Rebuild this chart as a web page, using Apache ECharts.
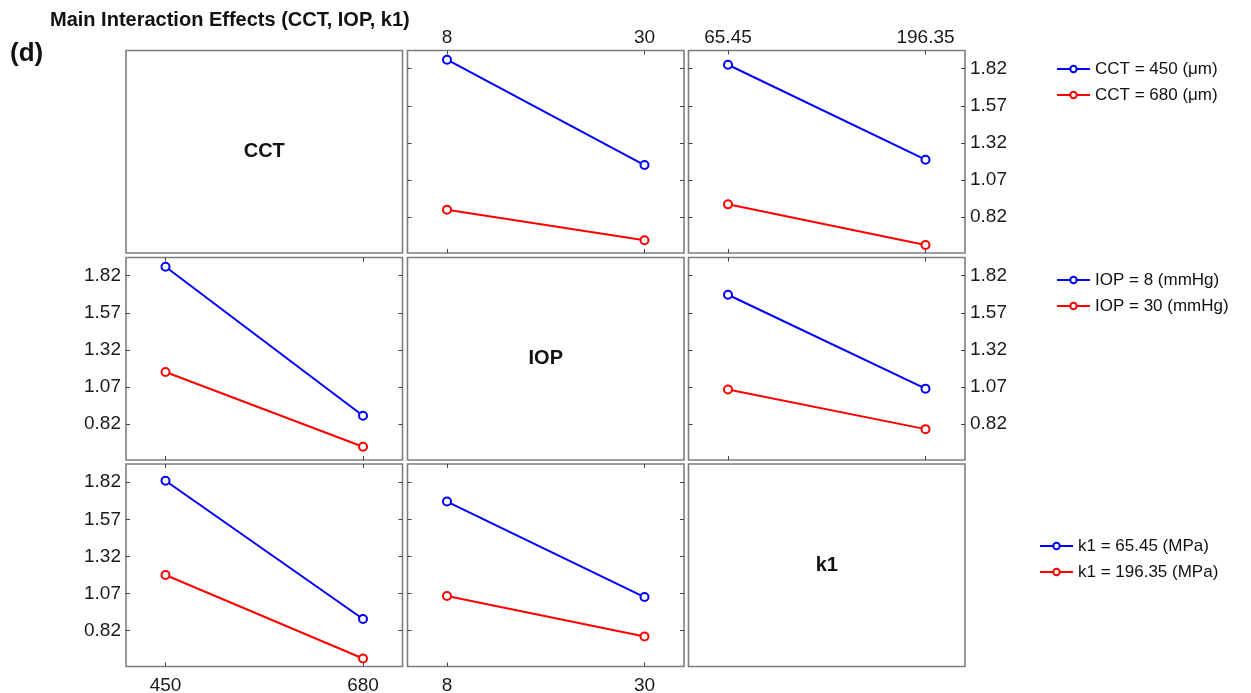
<!DOCTYPE html>
<html><head><meta charset="utf-8">
<script src="https://cdn.jsdelivr.net/npm/echarts@6/dist/echarts.min.js"></script>
<style>html,body{margin:0;padding:0;background:#fff}#c{width:1251px;height:693px}</style>
</head><body><div id="c"></div>
<script>
// ---------- data ----------
const factors = ['CCT', 'IOP', 'k1'];
const cctLevels = [450, 680];
const iopLevels = [8, 30];
const k1Levels = [65.45, 196.35];
const yTicks = [0.82, 1.07, 1.32, 1.57, 1.82];
const cctNames = ['CCT = 450 (\u03bcm)', 'CCT = 680 (\u03bcm)'];
const iopNames = ['IOP = 8 (mmHg)', 'IOP = 30 (mmHg)'];
const k1Names = ['k1 = 65.45 (MPa)', 'k1 = 196.35 (MPa)'];
// row 1: lines grouped by CCT
const cct450_vs_iop = [1.881, 1.171];
const cct680_vs_iop = [0.870, 0.664];
const cct450_vs_k1 = [1.847, 1.207];
const cct680_vs_k1 = [0.906, 0.632];
// row 2: lines grouped by IOP
const iop8_vs_cct = [1.881, 0.876];
const iop30_vs_cct = [1.171, 0.667];
const iop8_vs_k1 = [1.692, 1.059];
const iop30_vs_k1 = [1.053, 0.786];
// row 3: lines grouped by k1
const k1low_vs_cct = [1.830, 0.898];
const k1high_vs_cct = [1.195, 0.632];
const k1low_vs_iop = [1.690, 1.046];
const k1high_vs_iop = [1.053, 0.780];

// ---------- layout ----------
const colLeft = [126, 407.5, 688.5], colW = 276.5;
const rowTop = [50.5, 257.5, 464], rowH = 202.5;
const yMin = 0.578, yMax = 1.943;
const FONT = '"Liberation Sans", Arial, Helvetica, sans-serif';
const BORDER = '#7d7d7d';
const levelsOf = {CCT: cctLevels, IOP: iopLevels, k1: k1Levels};
function xRange(lv) { const s = lv[1] - lv[0]; return [lv[0] - 0.2 * s, lv[1] + 0.2 * s]; }

const panels = [
  {row: 0, col: 1, x: 'IOP', names: cctNames, a: cct450_vs_iop, b: cct680_vs_iop},
  {row: 0, col: 2, x: 'k1',  names: cctNames, a: cct450_vs_k1,  b: cct680_vs_k1},
  {row: 1, col: 0, x: 'CCT', names: iopNames, a: iop8_vs_cct,   b: iop30_vs_cct},
  {row: 1, col: 2, x: 'k1',  names: iopNames, a: iop8_vs_k1,    b: iop30_vs_k1},
  {row: 2, col: 0, x: 'CCT', names: k1Names,  a: k1low_vs_cct,  b: k1high_vs_cct},
  {row: 2, col: 1, x: 'IOP', names: k1Names,  a: k1low_vs_iop,  b: k1high_vs_iop}
];

const grid = [], xAxis = [], yAxis = [], series = [];
const labelStyle = {fontSize: 19, color: '#1a1a1a', fontFamily: FONT};
const tickStyle = {show: true, inside: true, length: 4, lineStyle: {color: '#444', width: 1}};

panels.forEach((p, i) => {
  grid.push({left: colLeft[p.col], top: rowTop[p.row], width: colW, height: rowH,
    show: true, borderColor: BORDER, borderWidth: 1.6, backgroundColor: 'transparent',
    containLabel: false, outerBoundsMode: 'none'});
  const lv = levelsOf[p.x];
  const [xmin, xmax] = xRange(lv);
  ['bottom', 'top'].forEach(pos => {
    const showLab = (pos === 'bottom' && p.row === 2) || (pos === 'top' && p.row === 0);
    xAxis.push({type: 'value', gridIndex: i, position: pos, min: xmin, max: xmax,
      axisLine: {show: false}, splitLine: {show: false},
      axisTick: Object.assign({customValues: lv}, tickStyle),
      axisLabel: Object.assign({show: showLab, customValues: lv, margin: pos === 'top' ? 3 : 10,
        formatter: v => String(v)}, labelStyle)});
  });
  ['left', 'right'].forEach(pos => {
    const showLab = (pos === 'left' && p.col === 0) || (pos === 'right' && p.col === 2);
    yAxis.push({type: 'value', gridIndex: i, position: pos, min: yMin, max: yMax,
      axisLine: {show: false}, splitLine: {show: false},
      axisTick: Object.assign({customValues: yTicks}, tickStyle),
      axisLabel: Object.assign({show: showLab, customValues: yTicks, margin: 5,
        formatter: v => v.toFixed(2)}, labelStyle)});
  });
  [[p.a, '#0000ff', p.names[0]], [p.b, '#ff0000', p.names[1]]].forEach(([vals, col, nm]) => {
    series.push({type: 'line', name: nm, xAxisIndex: 2 * i, yAxisIndex: 2 * i,
      data: lv.map((x, k) => [x, vals[k]]),
      symbol: 'emptyCircle', symbolSize: 8, showSymbol: true,
      lineStyle: {color: col, width: 2}, itemStyle: {color: col, borderColor: col, borderWidth: 2},
      emphasis: {disabled: true}, animation: false, z: 3});
  });
});

// empty diagonal panels with factor names
const graphic = [];
factors.forEach((f, k) => {
  graphic.push({type: 'rect', shape: {x: colLeft[k], y: rowTop[k], width: colW, height: rowH},
    style: {fill: 'none', stroke: BORDER, lineWidth: 1.6}});
  graphic.push({type: 'text', x: colLeft[k] + colW / 2, y: rowTop[k] + rowH / 2,
    style: {text: f, font: 'bold 20px ' + FONT, fill: '#111', align: 'center', verticalAlign: 'middle'}});
});
graphic.push({type: 'text', x: 50, y: 20,
  style: {text: 'Main Interaction Effects (CCT, IOP, k1)', font: 'bold 20px ' + FONT, fill: '#111', verticalAlign: 'middle'}});
graphic.push({type: 'text', x: 10, y: 54,
  style: {text: '(d)', font: 'bold 26px ' + FONT, fill: '#111', verticalAlign: 'middle'}});

const legendBase = {orient: 'vertical', itemWidth: 33, itemHeight: 8, itemGap: 6,
  textStyle: {fontSize: 17, color: '#111', fontFamily: FONT, lineHeight: 20}, selectedMode: false};
const legend = [
  Object.assign({data: cctNames, left: 1051, top: 54}, legendBase),
  Object.assign({data: iopNames, left: 1051, top: 265}, legendBase),
  Object.assign({data: k1Names, left: 1034, top: 531}, legendBase)
];

const chart = echarts.init(document.getElementById('c'));
chart.setOption({animation: false, backgroundColor: '#fff', grid, xAxis, yAxis, series, legend, graphic});
</script></body></html>
